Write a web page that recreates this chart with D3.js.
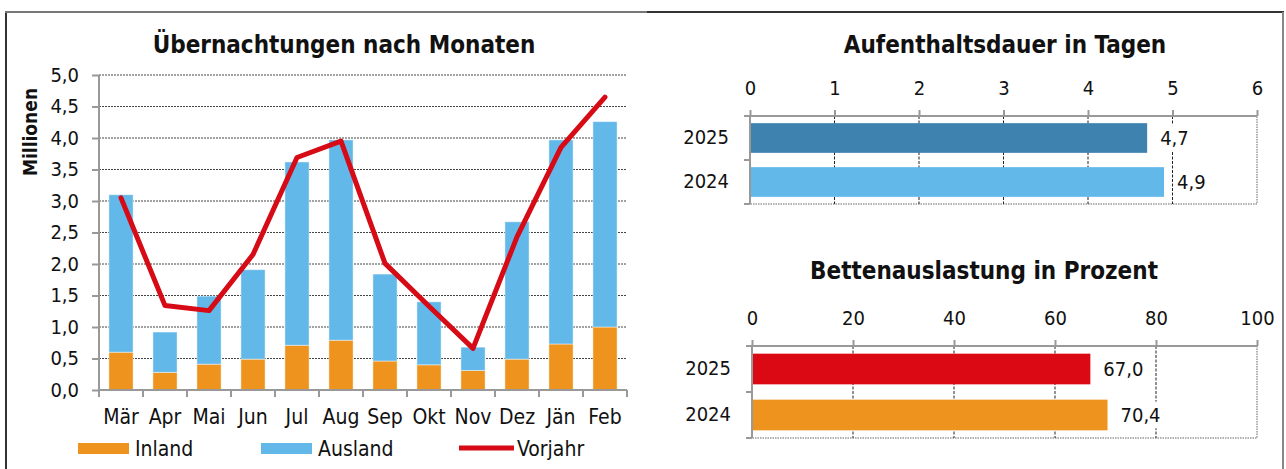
<!DOCTYPE html>
<html>
<head>
<meta charset="utf-8">
<script src="https://cdn.jsdelivr.net/npm/d3@7"></script>
<style>
  html, body { margin: 0; padding: 0; background: #fff; }
  svg { display: block; }
  text { font-family: "DejaVu Sans Condensed", "DejaVu Sans", sans-serif; fill: #111; }
</style>
</head>
<body>
<svg id="chart" width="1286" height="469"></svg>
<script>
// ---- data ----
const months = ["Mär","Apr","Mai","Jun","Jul","Aug","Sep","Okt","Nov","Dez","Jän","Feb"];
const inland = [0.60,0.28,0.41,0.49,0.71,0.79,0.46,0.40,0.31,0.49,0.73,1.00];
const ausland = [2.50,0.64,1.08,1.42,2.91,3.18,1.38,1.00,0.37,2.18,3.24,3.26];
const vorjahr = [3.05,1.34,1.26,2.15,3.69,3.95,2.01,1.33,0.66,2.43,3.85,4.65];
const yTicks = [0,0.5,1,1.5,2,2.5,3,3.5,4,4.5,5];

const years = ["2025","2024"];
const dauer = [4.7,4.9];
const dauerTicks = [0,1,2,3,4,5,6];
const auslastung = [67.0,70.4];
const auslastungTicks = [0,20,40,60,80,100];

const C = {
  inland: "#ED931E", ausland: "#63B8EA", line: "#D60B16",
  dark: "#3E82AF", red: "#DA0913"
};
const fmt1 = d3.format(".1f");
const comma = v => fmt1(v).replace(".", ",");
const FONT = '"DejaVu Sans Condensed", "DejaVu Sans", sans-serif';

const svg = d3.select("#chart");

// ---- frame ----
svg.append("line").attr("x1",6).attr("x2",6).attr("y1",12).attr("y2",469).attr("stroke","#333").attr("stroke-width",2);
svg.append("line").attr("x1",5).attr("x2",647).attr("y1",12).attr("y2",12).attr("stroke","#777").attr("stroke-width",2);
svg.append("line").attr("x1",647).attr("x2",1284).attr("y1",12).attr("y2",12).attr("stroke","#333").attr("stroke-width",2);
svg.append("line").attr("x1",1283).attr("x2",1283).attr("y1",12).attr("y2",469).attr("stroke","#888").attr("stroke-width",2);

// ---- left chart ----
const L = {x0:99, x1:627, y0:390, y1:75};
const x = d3.scaleBand().domain(months).range([L.x0, L.x1]).paddingInner(0.45).paddingOuter(0.225);
const y = d3.scaleLinear().domain([0,5]).range([L.y0, L.y1]);

svg.append("text").attr("x",344).attr("y",53).attr("text-anchor","middle")
  .attr("font-weight","bold").attr("font-size",24).text("Übernachtungen nach Monaten");

svg.append("text").attr("transform","translate(37,132) rotate(-90)").attr("text-anchor","middle")
  .attr("font-weight","bold").attr("font-size",19).text("Millionen");

// gridlines
svg.append("g").selectAll("line").data(yTicks.slice(1)).join("line")
  .attr("x1",L.x0).attr("x2",L.x1).attr("y1",d=>y(d)).attr("y2",d=>y(d))
  .attr("stroke","#444").attr("stroke-width",1).attr("stroke-dasharray","2,1");

// bars
const stack = months.map((m,i)=>({m, a:inland[i], b:ausland[i]}));
svg.append("g").selectAll("rect").data(stack).join("rect")
  .attr("x",d=>x(d.m)).attr("width",x.bandwidth())
  .attr("y",d=>y(d.a)).attr("height",d=>y(0)-y(d.a))
  .attr("fill",C.inland).attr("stroke","rgba(255,255,255,0.45)").attr("stroke-width",1);
svg.append("g").selectAll("rect").data(stack).join("rect")
  .attr("x",d=>x(d.m)).attr("width",x.bandwidth())
  .attr("y",d=>y(d.a+d.b)).attr("height",d=>y(d.a)-y(d.a+d.b))
  .attr("fill",C.ausland).attr("stroke","rgba(255,255,255,0.45)").attr("stroke-width",1);

// y axis
const yAxis = svg.append("g").attr("transform",`translate(${L.x0},0)`)
  .call(d3.axisLeft(y).tickValues(yTicks).tickFormat(comma).tickSize(7).tickPadding(13));
yAxis.select(".domain").attr("stroke","#999").attr("stroke-width",2).attr("d",`M0,${L.y0}V${L.y1}`);
yAxis.selectAll(".tick line").attr("stroke","#999").attr("stroke-width",2);
yAxis.selectAll(".tick text").attr("font-size",20).attr("fill","#111").style("font-family",FONT);

// x axis
const xAxis = svg.append("g").attr("transform",`translate(0,${L.y0})`)
  .call(d3.axisBottom(x).tickSize(0).tickPadding(19));
xAxis.select(".domain").attr("stroke","#999").attr("stroke-width",2).attr("d",`M${L.x0},0H${L.x1}`);
xAxis.selectAll(".tick text").attr("font-size",21).attr("fill","#111").style("font-family",FONT);
const bounds = months.map(m=>x(m)-x.step()*x.paddingInner()/2).concat([L.x1]);
svg.append("g").selectAll("line").data(bounds).join("line")
  .attr("x1",d=>d).attr("x2",d=>d).attr("y1",L.y0).attr("y2",L.y0+7)
  .attr("stroke","#999").attr("stroke-width",2);

// Vorjahr line
svg.append("path").datum(vorjahr)
  .attr("d", d3.line().x((d,i)=>x(months[i])+x.bandwidth()/2).y(d=>y(d)))
  .attr("fill","none").attr("stroke",C.line).attr("stroke-width",5)
  .attr("stroke-linejoin","round").attr("stroke-linecap","round");

// legend
const lg = svg.append("g").attr("font-size",21);
const legendItems = [
  {label:"Inland", type:"rect", color:C.inland, x:78},
  {label:"Ausland", type:"rect", color:C.ausland, x:261},
  {label:"Vorjahr", type:"line", color:C.line, x:459}
];
legendItems.forEach(it=>{
  if(it.type==="rect"){
    lg.append("rect").attr("x",it.x).attr("y",443).attr("width",51).attr("height",11).attr("fill",it.color);
    lg.append("text").attr("x",it.x+57).attr("y",448).attr("dy","0.36em").text(it.label);
  } else {
    lg.append("line").attr("x1",it.x).attr("x2",it.x+55).attr("y1",448).attr("y2",448)
      .attr("stroke",it.color).attr("stroke-width",5);
    lg.append("text").attr("x",it.x+58).attr("y",448).attr("dy","0.36em").text(it.label);
  }
});

// ---- right charts ----
function hbar(opts){
  const {title, titleX, titleY, domain, ticks, x0, x1, yTop, yBot, values, colors, pad} = opts;
  const xs = d3.scaleLinear().domain(domain).range([x0,x1]);
  const ys = d3.scaleBand().domain(years).range([yTop,yBot]).paddingInner(pad).paddingOuter(pad/2);
  const g = svg.append("g");
  g.append("text").attr("x",titleX).attr("y",titleY).attr("text-anchor","middle")
    .attr("font-weight","bold").attr("font-size",24).text(title);
  // plot border (dotted)
  g.append("rect").attr("x",x0).attr("y",yTop).attr("width",x1-x0).attr("height",yBot-yTop)
    .attr("fill","none").attr("stroke","#999").attr("stroke-width",1.5).attr("stroke-dasharray","1.5,1");
  // gridlines
  g.append("g").selectAll("line").data(ticks.slice(1,-1)).join("line")
    .attr("x1",d=>xs(d)).attr("x2",d=>xs(d)).attr("y1",yTop).attr("y2",yBot)
    .attr("stroke","#222").attr("stroke-width",1).attr("stroke-dasharray","3,1.5");
  // bars
  g.append("g").selectAll("rect").data(years).join("rect")
    .attr("x",xs(0)).attr("y",d=>ys(d)).attr("height",ys.bandwidth())
    .attr("width",(d,i)=>xs(values[i])-xs(0)).attr("fill",(d,i)=>colors[i]);
  // value labels with white backing
  const lab = g.append("g").selectAll("g").data(years).join("g");
  lab.append("rect")
    .attr("x",(d,i)=>xs(values[i])+11).attr("y",d=>ys(d)+2)
    .attr("width",40).attr("height",ys.bandwidth()-4).attr("fill","#fff");
  lab.append("text")
    .attr("x",(d,i)=>xs(values[i])+13).attr("y",d=>ys(d)+ys.bandwidth()/2).attr("dy","0.36em")
    .attr("font-size",20).text((d,i)=>comma(values[i]));
  // top axis
  const ax = g.append("g").attr("transform",`translate(0,${yTop})`)
    .call(d3.axisTop(xs).tickValues(ticks).tickFormat(d3.format("d")).tickSize(6).tickPadding(15));
  ax.select(".domain").attr("stroke","#999").attr("stroke-width",2).attr("d",`M${x0},0H${x1}`);
  ax.selectAll(".tick line").attr("stroke","#999").attr("stroke-width",2);
  ax.selectAll(".tick text").attr("font-size",20).attr("fill","#111").style("font-family",FONT);
  // left axis
  const ay = g.append("g").attr("transform",`translate(${x0},0)`)
    .call(d3.axisLeft(ys).tickSize(0).tickPadding(21));
  ay.select(".domain").attr("stroke","#999").attr("stroke-width",2).attr("d",`M0,${yTop}V${yBot}`);
  ay.selectAll(".tick text").attr("font-size",20).attr("fill","#111").style("font-family",FONT);
  const yb = years.map(yr=>ys(yr)-ys.step()*ys.paddingInner()/2).concat([yBot]);
  yb[0] = yTop;
  g.append("g").selectAll("line").data(yb).join("line")
    .attr("x1",x0-6).attr("x2",x0).attr("y1",d=>d).attr("y2",d=>d)
    .attr("stroke","#999").attr("stroke-width",2);
}

hbar({title:"Aufenthaltsdauer in Tagen", titleX:1005, titleY:53, domain:[0,6], ticks:dauerTicks,
  x0:750, x1:1257, yTop:116, yBot:204, values:dauer, colors:[C.dark, C.ausland], pad:0.325});
hbar({title:"Bettenauslastung in Prozent", titleX:984, titleY:279, domain:[0,100], ticks:auslastungTicks,
  x0:752, x1:1257, yTop:346, yBot:438, values:auslastung, colors:[C.red, C.inland], pad:0.333});
</script>
</body>
</html>
